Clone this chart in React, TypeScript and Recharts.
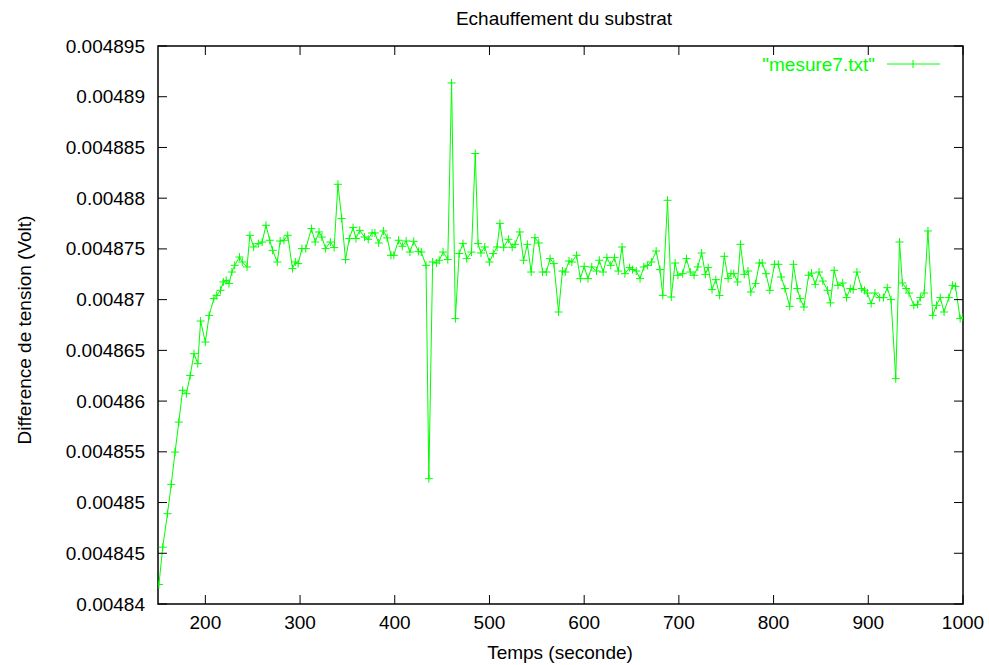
import React from "react";
import { LineChart, Line, XAxis, YAxis, ReferenceArea } from "recharts";

// temps en secondes
const temps: number[] = [
  151, 155, 160, 164, 168, 172, 176, 180, 184, 188, 192, 195, 200, 204,
  209, 212, 216, 219, 222, 225, 228, 231, 236, 239, 244, 247, 251, 256, 260, 264, 268,
  271, 276, 279, 283, 287, 292, 295, 298, 302, 306, 312, 316, 320, 323, 327, 332, 336,
  340, 344, 348, 352, 356, 359, 363, 368, 372, 376, 379, 383, 388, 392, 396, 399, 404,
  408, 412, 416, 420, 425, 428, 433,
  436, 440, 444, 447, 451, 456, 460, 464, 468, 472, 476, 481, 485, 488, 491, 495, 500,
  504, 508, 511, 515, 520, 524, 527, 532,
  536, 540, 544, 548, 552, 556, 560, 564, 568, 573, 577, 580, 584, 587, 592, 596, 600,
  604, 608, 613, 616, 620, 624, 628, 632, 636, 640, 643, 648, 651, 655, 659, 663, 667,
  671, 676, 680, 683, 688, 692, 696, 699, 704, 708, 712, 716, 720, 724, 728, 731, 735,
  739, 743, 748, 752, 755, 758, 762, 765, 769, 773, 776, 781, 785, 788, 792, 796, 801,
  805, 808, 812, 817, 821, 825, 828, 832, 837, 840, 844, 848, 852, 857, 860, 864, 868,
  873, 877, 881, 884, 888, 893, 896, 899, 903, 907, 912, 916, 920, 924, 929, 933, 936,
  940, 943, 948, 952, 955, 959, 963, 968, 972, 976, 980, 985, 989, 992, 997, 1000,
];

// difference de tension en volts
const tension: number[] = [
  0.00484192, 0.0048456, 0.0048489, 0.00485179, 0.00485497, 0.00485793, 0.00486106,
  0.00486073, 0.00486253, 0.00486467, 0.00486369, 0.00486789, 0.00486582, 0.00486845,
  0.0048701, 0.00487042, 0.00487092, 0.00487174, 0.0048719, 0.00487158, 0.00487272,
  0.00487338, 0.0048742, 0.00487371, 0.00487322, 0.00487634, 0.00487519, 0.00487552,
  0.00487568, 0.00487733, 0.00487585, 0.00487486, 0.00487371, 0.00487578, 0.00487585,
  0.00487634, 0.00487306, 0.00487371, 0.00487355, 0.00487503, 0.00487503, 0.004877,
  0.00487568, 0.00487667, 0.00487617, 0.00487503, 0.00487568, 0.00487513,
  0.00488137, 0.00487799, 0.00487395, 0.00487602, 0.0048771, 0.00487602, 0.00487683,
  0.00487617, 0.00487595, 0.00487657, 0.00487657, 0.00487558, 0.00487677, 0.00487608,
  0.00487437, 0.00487437, 0.00487585, 0.00487526, 0.00487578, 0.00487469, 0.00487575,
  0.00487476, 0.00487469, 0.00487338,
  0.00485235, 0.00487371, 0.00487361, 0.00487388, 0.00487469, 0.00487395, 0.00489136,
  0.00486813, 0.00487454, 0.00487552, 0.00487404, 0.00487469, 0.0048844, 0.00487552,
  0.0048746, 0.00487519, 0.00487371, 0.00487454, 0.00487519, 0.00487752, 0.00487516,
  0.00487595, 0.00487516, 0.00487545, 0.00487667,
  0.00487388, 0.00487545, 0.00487272, 0.00487611, 0.00487558, 0.00487272, 0.00487272,
  0.00487404, 0.00487355, 0.00486878, 0.00487282, 0.00487272, 0.00487381, 0.00487371,
  0.00487437, 0.00487207, 0.00487328, 0.00487207, 0.00487322, 0.00487282, 0.00487388,
  0.00487272, 0.00487414, 0.00487338, 0.00487414, 0.00487282, 0.00487519, 0.00487256,
  0.00487316, 0.00487296, 0.00487282, 0.00487207, 0.00487322, 0.00487338, 0.00487371,
  0.00487479, 0.00487296, 0.00487042, 0.00487979, 0.00487026, 0.00487361, 0.0048724,
  0.00487256, 0.00487404, 0.00487272, 0.0048724, 0.00487322, 0.0048746, 0.00487249,
  0.00487316, 0.00487099, 0.00487197, 0.00487042, 0.00487427, 0.00487207, 0.00487256,
  0.00487256, 0.00487174, 0.00487545, 0.00487249, 0.00487282, 0.00487075, 0.00487158,
  0.00487361, 0.00487361, 0.00487256, 0.00487092, 0.00487348, 0.00487348, 0.00487223,
  0.00487109, 0.00486934, 0.00487348, 0.00487109, 0.0048701, 0.00486927, 0.0048724,
  0.00487262, 0.00487151, 0.00487272, 0.00487183, 0.00487092, 0.00486968, 0.00487289,
  0.00487141, 0.00487164, 0.0048702, 0.00487109, 0.00487099, 0.00487272, 0.00487109,
  0.00487092, 0.00487065, 0.00486961, 0.00487065, 0.0048702, 0.0048702, 0.00487118,
  0.00487, 0.00486221, 0.00487568, 0.00487164, 0.00487109, 0.00487065, 0.00486944,
  0.00486954, 0.0048702, 0.00487065, 0.00487677, 0.00486845, 0.00486944, 0.0048702,
  0.00486878, 0.0048702, 0.00487141, 0.00487131, 0.00486813, 0.00486828,
];

const xTicks: number[] = [200, 300, 400, 500, 600, 700, 800, 900, 1000];
const yTicks: number[] = [
  0.00484, 0.004845, 0.00485, 0.004855, 0.00486, 0.004865, 0.00487, 0.004875,
  0.00488, 0.004885, 0.00489, 0.004895,
];

const data = temps.map((t, i) => ({ temps: t, tension: tension[i] }));

const W = 989;
const H = 665;
const PLOT = { left: 158, right: 963, top: 46, bottom: 604 };
const GREEN = "#00ff00";
const FONT = "'Liberation Sans', Arial, Helvetica, sans-serif";
const FS = 19;
const TICK = 9;

const Cross = (props: any) => {
  const { cx, cy } = props;
  if (cx == null || cy == null) return null;
  return (
    <path
      d={`M${cx - 4},${cy}h8M${cx},${cy - 4}v8`}
      stroke={GREEN}
      strokeWidth={1}
      fill="none"
    />
  );
};

const XTick = (props: any) => {
  const { x, payload } = props;
  return (
    <g>
      <line x1={x} x2={x} y1={PLOT.bottom} y2={PLOT.bottom - TICK} stroke="#000" />
      <line x1={x} x2={x} y1={PLOT.top} y2={PLOT.top + TICK} stroke="#000" />
      <text
        x={x}
        y={622}
        textAnchor="middle"
        dominantBaseline="central"
        fontFamily={FONT}
        fontSize={FS}
        fill="#000"
      >
        {payload.value}
      </text>
    </g>
  );
};

const YTick = (props: any) => {
  const { y, payload } = props;
  return (
    <g>
      <line x1={PLOT.left} x2={PLOT.left + TICK} y1={y} y2={y} stroke="#000" />
      <line x1={PLOT.right} x2={PLOT.right - TICK} y1={y} y2={y} stroke="#000" />
      <text
        x={145}
        y={y}
        textAnchor="end"
        dominantBaseline="central"
        fontFamily={FONT}
        fontSize={FS}
        fill="#000"
      >
        {String(payload.value)}
      </text>
    </g>
  );
};

export default function App() {
  return (
    <div style={{ position: "absolute", left: 0, top: 0, width: W, height: H, background: "#fff" }}>
      <LineChart
        width={W}
        height={H}
        data={data}
        margin={{ top: PLOT.top, right: W - PLOT.right, bottom: 0, left: 0 }}
      >
        <XAxis
          dataKey="temps"
          type="number"
          domain={[150, 1000]}
          ticks={xTicks}
          allowDataOverflow
          height={H - PLOT.bottom}
          axisLine={false}
          tickLine={false}
          tick={<XTick />}
        />
        <YAxis
          type="number"
          domain={[0.00484, 0.004895]}
          ticks={yTicks}
          allowDataOverflow
          width={PLOT.left}
          axisLine={false}
          tickLine={false}
          tick={<YTick />}
        />
        <Line
          dataKey="tension"
          stroke={GREEN}
          strokeWidth={1}
          dot={<Cross />}
          activeDot={false}
          isAnimationActive={false}
        />
        <ReferenceArea
          x1={150}
          x2={1000}
          y1={0.00484}
          y2={0.004895}
          fill="none"
          stroke="#000"
          strokeWidth={1.5}
        />
        <text
          x={564}
          y={18}
          textAnchor="middle"
          dominantBaseline="central"
          fontFamily={FONT}
          fontSize={FS}
          fill="#000"
        >
          Echauffement du substrat
        </text>
        <text
          x={560}
          y={652}
          textAnchor="middle"
          dominantBaseline="central"
          fontFamily={FONT}
          fontSize={FS}
          fill="#000"
        >
          Temps (seconde)
        </text>
        <text
          x={24}
          y={330}
          textAnchor="middle"
          dominantBaseline="central"
          transform="rotate(-90 24 330)"
          fontFamily={FONT}
          fontSize={FS}
          fill="#000"
        >
          Difference de tension (Volt)
        </text>
        <g>
          <text
            x={875}
            y={64}
            textAnchor="end"
            dominantBaseline="central"
            fontFamily={FONT}
            fontSize={FS}
            fill={GREEN}
          >
            "mesure7.txt"
          </text>
          <line x1={887} x2={940} y1={64} y2={64} stroke={GREEN} />
          <path d="M913,60v8" stroke={GREEN} />
        </g>
      </LineChart>
    </div>
  );
}
